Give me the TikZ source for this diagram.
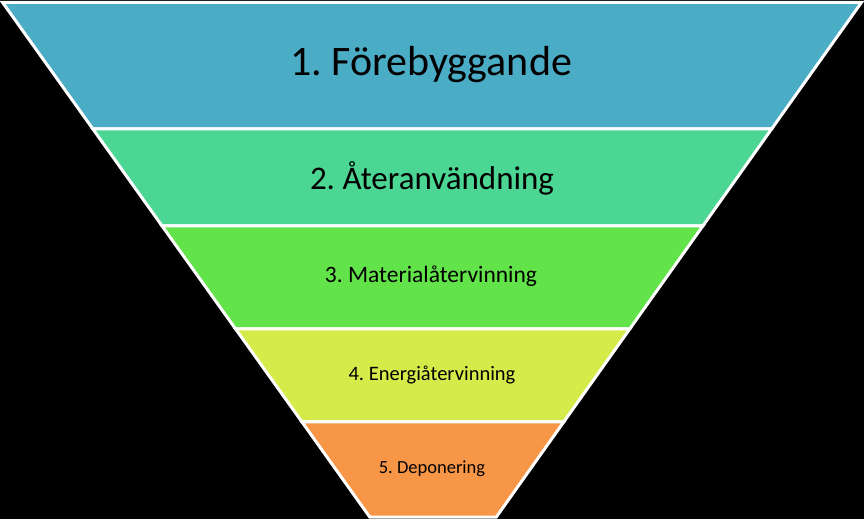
\documentclass[tikz,border=0pt]{standalone}
\usepackage{fontspec}
\setmainfont{Carlito}
\frenchspacing
\definecolor{bandA}{HTML}{4BACC6}
\definecolor{bandB}{HTML}{4CD694}
\definecolor{bandC}{HTML}{62E34A}
\definecolor{bandD}{HTML}{D5EB4A}
\definecolor{bandE}{HTML}{F79646}
\begin{document}
\begin{tikzpicture}[x=1pt,y=1pt,
  band/.style={draw=white,line width=3pt,line join=miter},
  lbl/.style={text=black,inner sep=0pt,anchor=center,execute at begin node=\frenchspacing}]
\fill[black] (0,0) rectangle (864,519);
\useasboundingbox (0,0) rectangle (864,519);
\filldraw[band,fill=bandA] (2.6,516.5) -- (861.4,516.5) -- (771.6,390) -- (92.9,390) -- cycle;
\filldraw[band,fill=bandB] (92.9,390) -- (771.6,390) -- (702.8,293) -- (162.1,293) -- cycle;
\filldraw[band,fill=bandC] (162.1,293) -- (702.8,293) -- (629.7,190) -- (235.6,190) -- cycle;
\filldraw[band,fill=bandD] (235.6,190) -- (629.7,190) -- (563.7,97) -- (302.0,97) -- cycle;
\filldraw[band,fill=bandE] (302.0,97) -- (563.7,97) -- (496.3,2) -- (369.7,2) -- cycle;
\node[lbl,font=\fontsize{42}{46}\selectfont] (t1) at (431,454) {1. Förebyggande};
\node[lbl,font=\fontsize{33}{36}\selectfont] (t2) at (432,341) {2. Återanvändning};
\node[lbl,font=\fontsize{23.5}{27}\selectfont] (t3) at (431,243) {3. Materialåtervinning};
\node[lbl,font=\fontsize{20.5}{24}\selectfont] (t4) at (432,144) {4. Energiåtervinning};
\node[lbl,font=\fontsize{18.5}{22}\selectfont] (t5) at (432,50) {5. Deponering};
\end{tikzpicture}
\end{document}
